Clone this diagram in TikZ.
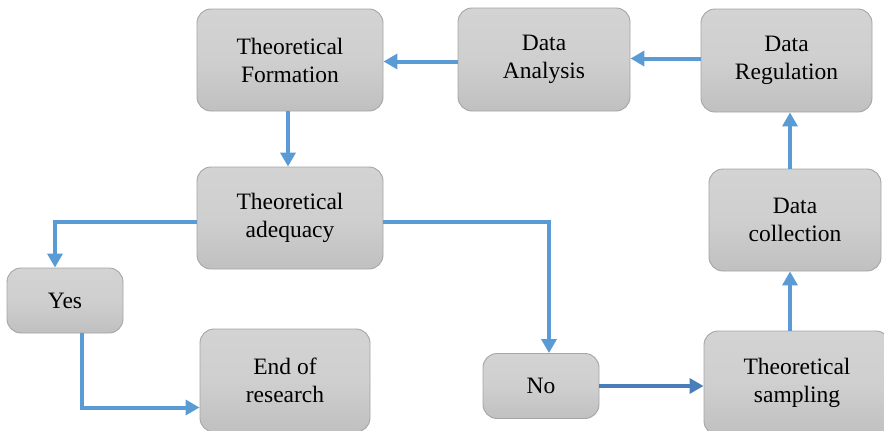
\documentclass[tikz,border=0pt]{standalone}
\usepackage{fontspec}
\setmainfont{Liberation Serif}
\usetikzlibrary{arrows.meta}

\definecolor{boxfill}{HTML}{CFCFCF}
\definecolor{boxtop}{HTML}{D3D3D3}
\definecolor{boxbot}{HTML}{C0C0C0}
\definecolor{boxline}{HTML}{A5A5A5}
\definecolor{flow}{HTML}{5B9BD5}
\definecolor{flowdark}{HTML}{4A7EBB}

\tikzset{
  stage/.style={draw=boxline, line width=0.9pt, rounded corners=14pt,
    top color=boxtop, bottom color=boxbot, middle color=boxfill,
    inner sep=0pt, align=center,
    font=\fontsize{23.5}{28}\selectfont},
  flowarrow/.style={draw=flow, line width=4pt,
    -{Triangle[width=15pt,length=14pt]}}
}

\begin{document}
\begin{tikzpicture}[x=1pt,y=-1pt]

% Page frame
\useasboundingbox (0,0) rectangle (884,431);
\clip (0,0) rectangle (884,431);

% Top row
\node[stage, minimum width=186pt, minimum height=102pt] (form) at (290,60) {Theoretical\\Formation};
\node[stage, minimum width=172pt, minimum height=103pt] (anal) at (544,59.5) {Data\\Analysis};
\node[stage, minimum width=171pt, minimum height=103pt] (regu) at (786.5,60.5) {Data\\Regulation};

% Middle row
\node[stage, minimum width=186pt, minimum height=102pt] (adeq) at (290,218) {Theoretical\\adequacy};
\node[stage, minimum width=172pt, minimum height=102pt] (colc) at (795,220) {Data\\collection};

% Decision boxes
\node[stage, minimum width=116pt, minimum height=65pt] (yes) at (65,300.5) {Yes};
\node[stage, minimum width=116pt, minimum height=65pt] (no) at (541,386) {No};

% Bottom row
\node[stage, minimum width=170pt, minimum height=103pt] (endr) at (285,380.5) {End of\\research};
\node[stage, minimum width=186pt, minimum height=104pt] (samp) at (797,383) {Theoretical\\sampling};

% Connectors
\draw[flowarrow] ([yshift=-2pt]anal.west) -- ([yshift=-2pt]anal.west -| form.east);
\draw[flowarrow] ([yshift=2pt]regu.west) -- ([yshift=2pt]regu.west -| anal.east);
\draw[flowarrow] ([xshift=-2pt]form.south) -- ([xshift=-2pt]adeq.north);
\draw[flowarrow] ([yshift=-4pt]adeq.west) -| ([xshift=-10pt]yes.north);
\draw[flowarrow] ([yshift=-4pt]adeq.east) -| ([xshift=8pt]no.north);
\draw[flowarrow] ([xshift=17pt]yes.south) |- ([yshift=-27pt]endr.west);
\draw[flowarrow, draw=flowdark] (no.east) -- (no.east -| samp.west);
\draw[flowarrow] ([xshift=-5pt]colc.south |- samp.north) -- ([xshift=-5pt]colc.south);
\draw[flowarrow] ([xshift=-5pt]colc.north) -- ([xshift=-5pt]colc.north |- regu.south);

\end{tikzpicture}
\end{document}
